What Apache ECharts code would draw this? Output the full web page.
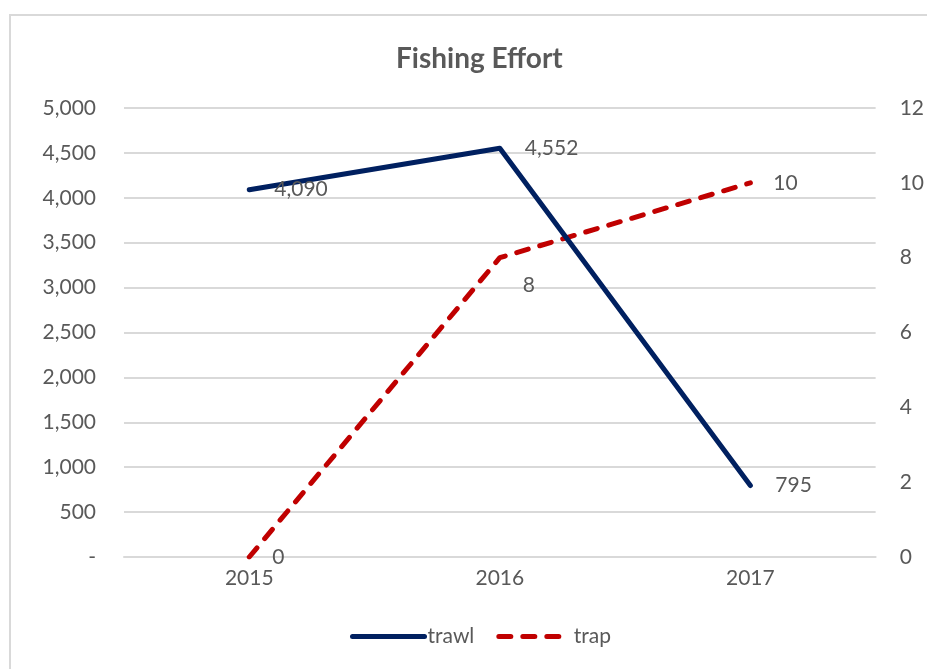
<!DOCTYPE html>
<html><head><meta charset="utf-8">
<script src="https://cdn.jsdelivr.net/npm/echarts@6/dist/echarts.min.js"></script>
<style>html,body{margin:0;padding:0;background:#fff}#c{width:927px;height:669px}</style>
</head><body><div id="c"></div>
<script>
var categories = ['2015', '2016', '2017'];
var trawl = [4090, 4552, 795];
var trap = [0, 8, 10];
var leftTicks = { min: 0, max: 5000, interval: 500 };
var rightTicks = { min: 0, max: 12, interval: 2 };

var chart = echarts.init(document.getElementById('c'));
var font = 'Lato, "Open Sans", sans-serif';
var txt = '#595959';
var navy = '#002060', red = '#c00000';
var fs = 21;
chart.setOption({
  animation: false,
  textStyle: { fontFamily: font },
  graphic: [{ type: 'rect', shape: { x: 10, y: 15, width: 940, height: 700 }, style: { fill: 'none', stroke: '#d9d9d9', lineWidth: 2 } }],
  title: { text: 'Fishing Effort', left: 391, top: 40, textStyle: { fontFamily: font, fontSize: 28, fontWeight: 'bold', color: txt } },
  legend: { bottom: 17, left: 345, itemWidth: 72, itemHeight: 14, itemGap: 22,
    textStyle: { fontFamily: font, fontSize: fs, color: txt, padding: [0, 0, 0, -2] },
    data: [
      { name: 'trawl', itemStyle: { opacity: 0 }, lineStyle: { color: navy, width: 5, cap: 'round' } },
      { name: 'trap', itemStyle: { opacity: 0 }, lineStyle: { color: red, width: 5, type: [12, 12], cap: 'round' } }
    ] },
  grid: { left: 124, right: 51, top: 108, bottom: 112 },
  xAxis: { type: 'category', data: categories, boundaryGap: true,
    axisLine: { show: true, lineStyle: { color: '#d9d9d9', width: 2 } }, axisTick: { show: false },
    axisLabel: { color: txt, fontSize: fs, margin: 11, fontFamily: font } },
  yAxis: [
    { type: 'value', min: leftTicks.min, max: leftTicks.max, interval: leftTicks.interval, position: 'left',
      axisLine: { show: false }, axisTick: { show: false },
      splitLine: { lineStyle: { color: '#d9d9d9', width: 2 } },
      axisLabel: { color: txt, fontSize: fs, margin: 28, fontFamily: font,
        formatter: function (v) { return v === 0 ? '-' : v.toLocaleString('en-US'); } } },
    { type: 'value', min: rightTicks.min, max: rightTicks.max, interval: rightTicks.interval, position: 'right',
      axisLine: { show: false }, axisTick: { show: false }, splitLine: { show: false },
      axisLabel: { color: txt, fontSize: fs, margin: 24, fontFamily: font } }
  ],
  series: [
    { name: 'trawl', type: 'line', yAxisIndex: 0, data: trawl, symbol: 'circle', symbolSize: 2, z: 3,
      lineStyle: { color: navy, width: 5, cap: 'round', join: 'round' }, itemStyle: { color: navy, opacity: 0 },
      label: { show: true, position: 'right', distance: 24, color: txt, fontSize: fs, fontFamily: font, opacity: 1,
        formatter: function (p) { return p.value.toLocaleString('en-US'); } } },
    { name: 'trap', type: 'line', yAxisIndex: 1, symbol: 'circle', symbolSize: 2, z: 2,
      data: trap.map(function (v, i) { return i === 1 ? { value: v, label: { offset: [0, 28] } } : v; }),
      lineStyle: { color: red, width: 5, type: [12, 12], cap: 'round' }, itemStyle: { color: red, opacity: 0 },
      label: { show: true, position: 'right', distance: 22, color: txt, fontSize: fs, fontFamily: font, opacity: 1 } }
  ]
});
</script></body></html>
